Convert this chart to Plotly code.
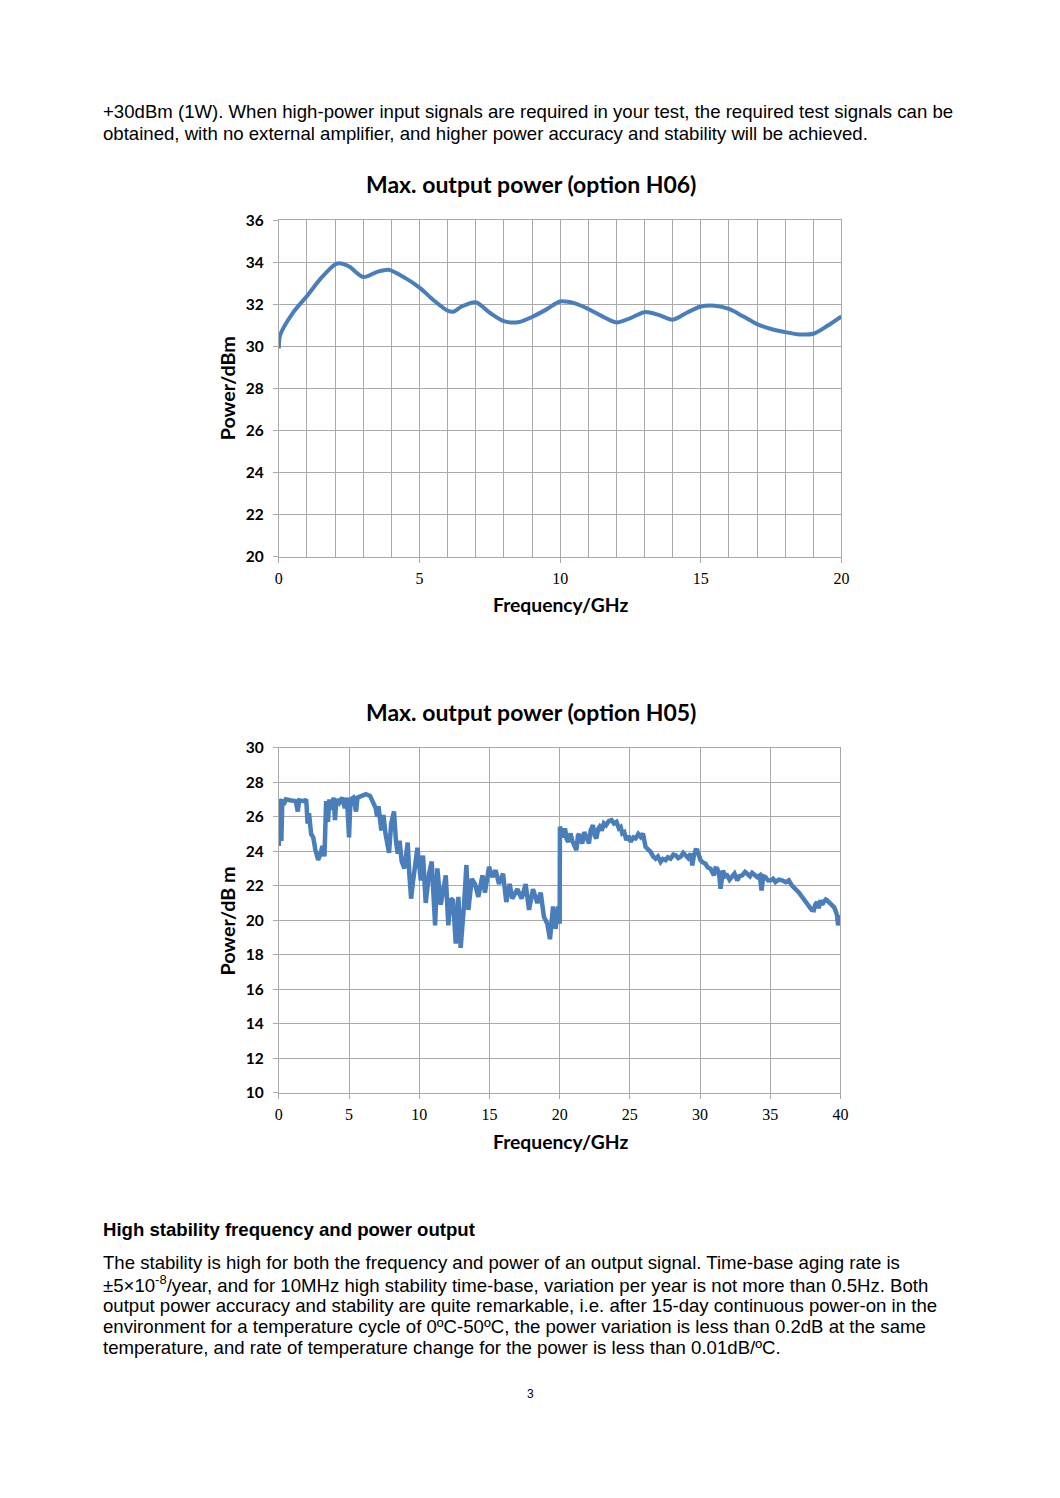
import plotly.graph_objects as go

W, H = 1060, 1498

# ---------------- data ----------------
freq_h06 = [0.0, 0.05, 0.5, 1.0, 1.5, 2.0, 2.2, 2.5, 3.0, 3.5, 3.9, 4.5, 5.0, 5.5, 6.0, 6.2, 6.5, 7.0,
            7.5, 8.0, 8.5, 9.0, 9.5, 10.0, 10.5, 11.0, 11.5, 12.0, 12.5, 13.0, 13.5, 14.0, 14.5, 15.0,
            15.5, 16.0, 16.5, 17.0, 17.5, 18.0, 18.5, 19.0, 19.5, 20.0]
power_h06 = [29.9, 30.55, 31.6, 32.4, 33.25, 33.9, 33.95, 33.8, 33.3, 33.55, 33.65, 33.25, 32.8, 32.2,
             31.7, 31.65, 31.9, 32.1, 31.6, 31.2, 31.15, 31.4, 31.75, 32.14, 32.06, 31.78, 31.43, 31.14,
             31.35, 31.63, 31.5, 31.27, 31.6, 31.9, 31.94, 31.78, 31.43, 31.06, 30.83, 30.68, 30.57,
             30.6, 30.98, 31.43]

freq_h05 = [0.0, 0.05, 0.12, 0.18, 0.25, 0.35, 0.5, 0.8, 1.2, 1.35, 1.45, 1.8, 1.95, 2.05, 2.15, 2.3,
            2.45, 2.6, 2.8, 2.95, 3.1, 3.25, 3.37, 3.5, 3.6, 3.75, 3.9, 4.0, 4.1, 4.3, 4.5, 4.7, 4.85,
            5.0, 5.1, 5.3, 5.5, 5.6, 5.9, 6.2, 6.5, 6.7, 6.9, 7.0, 7.1, 7.3, 7.45, 7.6, 7.85, 8.0, 8.2,
            8.35, 8.47, 8.6, 8.75, 8.94, 9.1, 9.18, 9.3, 9.42, 9.55, 9.77, 9.87,
            10.11, 10.27, 10.46, 10.6, 10.7, 10.89, 11.13, 11.29, 11.53, 11.65, 11.89, 12.07, 12.24,
            12.41, 12.6, 12.79, 12.95, 13.19, 13.36, 13.5, 13.74, 13.97, 14.21, 14.5, 14.68, 14.97,
            15.21, 15.44, 15.68, 15.97, 16.2, 16.44, 16.63, 16.99, 17.29, 17.58, 17.82, 18.1, 18.41,
            18.65, 18.88, 19.12, 19.31, 19.53, 19.71, 19.9, 20.0,
            20.02, 20.14, 20.26, 20.38, 20.5, 20.62, 20.78, 20.9, 21.02, 21.19, 21.3, 21.38, 21.5, 21.61,
            21.75, 21.85, 22.0, 22.09, 22.2, 22.37, 22.5, 22.61, 22.75, 22.85, 23.0, 23.15, 23.3, 23.51,
            23.7, 23.87, 24.05, 24.22, 24.35, 24.46, 24.6, 24.75, 24.9, 25.05, 25.25, 25.41, 25.6, 25.77,
            25.93, 26.12, 26.3, 26.48, 26.65, 26.83, 27.0, 27.19, 27.35, 27.55, 27.7, 27.9, 28.1, 28.26,
            28.45, 28.61, 28.8, 28.97, 29.15, 29.33, 29.45, 29.55, 29.68, 29.8,
            30.04, 30.2, 30.39, 30.55, 30.75, 30.99, 31.1, 31.22, 31.35, 31.46, 31.63, 31.8, 31.93,
            32.1, 32.29, 32.45, 32.65, 32.8, 33.0, 33.2, 33.36, 33.55, 33.71, 33.9, 34.07, 34.25, 34.38,
            34.5, 34.66, 34.85, 35.02, 35.2, 35.37, 35.6, 35.85, 36.1, 36.32, 36.55, 36.8, 37.05, 37.27,
            37.5, 37.75, 37.95, 38.1, 38.2, 38.34, 38.45, 38.58, 38.7, 38.81, 38.95, 39.05, 39.25, 39.41,
            39.55, 39.64, 39.75, 39.83, 39.92, 40.0]
power_h05 = [24.3, 27.0, 26.9, 24.6, 27.0, 26.7, 27.0, 26.95, 26.9, 26.3, 26.95, 26.9, 27.0, 25.6, 26.2,
             25.0, 24.8, 24.1, 23.5, 23.8, 24.3, 23.7, 26.9, 25.7, 27.0, 26.4, 27.1, 25.8, 27.0, 26.8,
             27.1, 26.5, 27.1, 24.8, 27.0, 27.1, 26.3, 27.1, 27.2, 27.3, 27.2, 26.8, 26.5, 26.0, 26.6,
             25.2, 26.1, 25.0, 23.9, 25.6, 26.3, 24.5, 23.85, 24.6, 23.4, 23.0, 24.2, 24.5, 22.6, 21.25,
             22.2, 24.0, 24.2,
             22.3, 23.75, 21.0, 22.0, 22.7, 23.4, 19.7, 23.0, 20.9, 21.45, 22.6, 19.7, 21.25, 21.15,
             18.65, 21.35, 18.4, 20.9, 23.2, 20.6, 22.4, 22.1, 21.35, 22.6, 21.6, 23.1, 22.5, 22.9, 22.1,
             22.7, 21.05, 22.1, 21.25, 21.8, 21.25, 22.1, 20.6, 21.8, 21.0, 21.6, 20.2, 19.8, 18.9, 20.8,
             19.5, 20.8, 19.8,
             25.42, 25.13, 24.8, 25.32, 24.7, 24.54, 25.03, 24.6, 24.35, 24.06, 24.9, 25.0, 24.6, 24.45,
             25.1, 24.93, 24.6, 24.45, 25.2, 25.51, 24.9, 24.74, 25.3, 25.42, 25.2, 25.61, 25.5, 25.75,
             25.8, 25.61, 25.7, 25.32, 25.4, 25.03, 25.1, 24.64, 24.9, 24.54, 24.8, 24.74, 25.0, 24.83,
             25.03, 24.25, 24.1, 23.96, 23.7, 23.57, 23.7, 23.38, 23.55, 23.48, 23.65, 23.57, 23.8, 23.77,
             23.6, 23.67, 23.9, 23.77, 23.6, 23.86, 23.18, 23.7, 24.06, 24.05,
             23.46, 23.35, 23.27, 23.05, 22.98, 22.6, 23.0, 22.98, 22.7, 21.83, 22.88, 22.55, 22.6,
             22.35, 22.5, 22.7, 22.31, 22.55, 22.6, 22.8, 22.69, 22.55, 22.75, 22.6, 22.5, 22.6, 21.73,
             22.55, 22.5, 22.3, 22.31, 22.4, 22.21, 22.35, 22.31, 22.2, 22.31, 22.0, 21.83, 21.6, 21.35,
             21.1, 20.87, 20.6, 20.58, 20.9, 21.06, 20.7, 21.15, 20.9, 21.06, 21.2, 21.15, 21.0, 20.87,
             20.75, 20.58, 20.3, 19.71, 20.1, 20.29]

title_h06 = "Max. output power (option H06)"
title_h05 = "Max. output power (option H05)"
xlabel = "Frequency/GHz"
ylabel_h06 = "Power/dBm"
ylabel_h05 = "Power/dB m"

text_top = [
    "+30dBm (1W). When high-power input signals are required in your test, the required test signals can be",
    "obtained, with no external amplifier, and higher power accuracy and stability will be achieved.",
]
heading = "High stability frequency and power output"
text_bottom = [
    "The stability is high for both the frequency and power of an output signal. Time-base aging rate is",
    "±5×10<sup>-8</sup>/year, and for 10MHz high stability time-base, variation per year is not more than 0.5Hz. Both",
    "output power accuracy and stability are quite remarkable, i.e. after 15-day continuous power-on in the",
    "environment for a temperature cycle of 0ºC-50ºC, the power variation is less than 0.2dB at the same",
    "temperature, and rate of temperature change for the power is less than 0.01dB/ºC.",
]
page_no = "3"

# ---------------- layout helpers ----------------
# the photographed page is slightly scaled/offset; map target pixel -> figure fraction
SX, OX = 0.9893, 3.0
SY, OY = 0.9874, 9.8

def px_x(p):
    return ((p - OX) / SX) / W

def px_y(p):
    return 1 - ((p - OY) / SY) / H

LINE = "#4a7ebb"
GRID = "#a9a9a9"
SANS = "Lato"
BODY = "Liberation Sans"

fig = go.Figure()
fig.add_trace(go.Scatter(x=freq_h06, y=power_h06, mode="lines", xaxis="x", yaxis="y",
                         line=dict(color=LINE, width=4, shape="spline", smoothing=0.8),
                         showlegend=False))
fig.add_trace(go.Scatter(x=freq_h05, y=power_h05, mode="lines", xaxis="x2", yaxis="y2",
                         line=dict(color=LINE, width=4.5), showlegend=False))

xcommon = dict(showgrid=True, gridcolor=GRID, gridwidth=1, showline=True, linecolor=GRID,
               linewidth=1, mirror=True, ticks="outside", ticklen=5, tickcolor=GRID,
               zeroline=False, tickfont=dict(family="Liberation Serif", size=16, color="#000"),
               ticklabelstandoff=2)
ycommon = dict(showgrid=True, gridcolor=GRID, gridwidth=1, showline=True, linecolor=GRID,
               linewidth=1, mirror=True, ticks="outside", ticklen=5, tickcolor=GRID,
               zeroline=False, tickfont=dict(family=SANS, size=15.5, color="#000", weight="bold"),
               ticklabelstandoff=6)

fig.update_layout(
    width=W, height=H, margin=dict(l=0, r=0, t=0, b=0),
    paper_bgcolor="white", plot_bgcolor="white",
    xaxis=dict(xcommon, domain=[px_x(278), px_x(841)], range=[0, 20], dtick=5, anchor="y",
               minor=dict(dtick=1, showgrid=True, gridcolor=GRID, gridwidth=1, ticks="")),
    yaxis=dict(ycommon, domain=[px_y(556), px_y(220)], range=[20, 36], dtick=2, anchor="x"),
    xaxis2=dict(xcommon, domain=[px_x(278), px_x(840)], range=[0, 40], dtick=5, anchor="y2"),
    yaxis2=dict(ycommon, domain=[px_y(1092), px_y(747)], range=[10, 30], dtick=2, anchor="x2"),
)

ann = []
def add_text(txt, x, y, size, family, bold=False, xanchor="left", angle=0):
    ann.append(dict(text=txt, x=px_x(x), y=px_y(y), xref="paper", yref="paper",
                    xanchor=xanchor, yanchor="middle", showarrow=False, textangle=angle,
                    font=dict(family=family, size=size, color="#000",
                              weight="bold" if bold else "normal")))

for i, t in enumerate(text_top):
    add_text(t, 100, 111 + 22 * i, 18.6, BODY)
add_text(heading, 100, 1229, 18.6, BODY, bold=True)
for i, t in enumerate(text_bottom):
    add_text(t, 100, 1262 + 21.2 * i, 18.6, BODY)
add_text(page_no, 530, 1393, 12, BODY, xanchor="center")

add_text(title_h06, 530, 184, 23, SANS, bold=True, xanchor="center")
add_text(title_h05, 530, 711, 23, SANS, bold=True, xanchor="center")
add_text(xlabel, 560, 604, 19.3, SANS, bold=True, xanchor="center")
add_text(xlabel, 560, 1141, 19.3, SANS, bold=True, xanchor="center")
add_text(ylabel_h06, 227, 388, 19.7, SANS, bold=True, xanchor="center", angle=-90)
add_text(ylabel_h05, 227, 920, 19.7, SANS, bold=True, xanchor="center", angle=-90)

fig.update_layout(annotations=ann)
fig.write_html("out.html", config={"displayModeBar": False},
               post_script="document.body.style.margin='0';document.body.style.overflow='hidden';")
